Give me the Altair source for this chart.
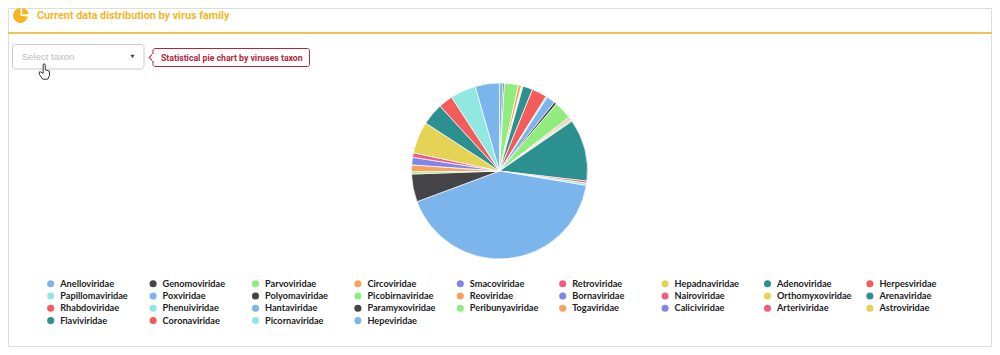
import altair as alt
import pandas as pd

families = ["Anelloviridae","Genomoviridae","Parvoviridae","Circoviridae","Smacoviridae","Retroviridae","Hepadnaviridae","Adenoviridae","Herpesviridae",
"Papillomaviridae","Poxviridae","Polyomaviridae","Picobirnaviridae","Reoviridae","Bornaviridae","Nairoviridae","Orthomyxoviridae","Arenaviridae",
"Rhabdoviridae","Phenuiviridae","Hantaviridae","Paramyxoviridae","Peribunyaviridae","Togaviridae","Caliciviridae","Arteriviridae","Astroviridae",
"Flaviviridae","Coronaviridae","Picornaviridae","Hepeviridae"]
shares = [2.2,1.0,9.3,2.0,0.3,0.3,0.4,6.5,10.0,1.0,5.6,1.7,12.0,0.9,0.8,0.5,1.0,41.1,1.4,1.5,150.1,18.4,1.5,4.5,5.0,3.0,21.0,14.5,9.5,17.0,16.0]
palette = ["#7cb5ec","#434348","#90ed7d","#f7a35c","#8085e9","#f15c80","#e4d354","#2b908f","#f45b5b","#91e8e1"]
colors = [palette[i % 10] for i in range(len(families))]

title_text = "Current data distribution by virus family"
select_text = "Select taxon"
tip_text = "Statistical pie chart by viruses taxon"

YEL = "#f3b61f"
RED = "#b3263a"
one = pd.DataFrame({"a": [0]})
W, H = 984, 339

df = pd.DataFrame({"name": families, "v": shares, "idx": range(len(families))})
df["col"] = df.idx % 9
df["row"] = df.idx // 9

def box(x, x2, y, y2, **kw):
    return alt.Chart(one).mark_rect(**kw).encode(x=alt.value(x), x2=alt.value(x2), y=alt.value(y), y2=alt.value(y2))

def line(x, x2, y, color, w):
    return alt.Chart(one).mark_rule(color=color, strokeWidth=w).encode(x=alt.value(x), x2=alt.value(x2), y=alt.value(y))

def label(text, x, y, **kw):
    return alt.Chart(one).mark_text(align="left", baseline="middle", text=text, **kw).encode(x=alt.value(x), y=alt.value(y))

def slice_(x, y, t0, t1, r):
    return alt.Chart(one).mark_arc(outerRadius=r, fill=YEL).encode(
        x=alt.value(x), y=alt.value(y), theta=alt.value(t0), theta2=alt.value(t1))

frame = box(0.5, 983.5, 0.5, 338.5, fill="#ffffff", stroke="#dddddd", strokeWidth=1)
header = line(0, 984, 25, "#f2c14e", 2)
icon1 = slice_(12.5, 7.5, 1.75, 6.28, 7.5)
icon2 = slice_(14, 6.5, 0.05, 1.55, 6.5)
title = label(title_text, 29, 8, font="Roboto", fontSize=10.8, fontWeight="bold", color=YEL)

dropdown = box(4.5, 136, 36.5, 61, fill="#ffffff", stroke="#c9c9c9", strokeWidth=1, cornerRadius=3)
placeholder = label(select_text, 14, 48.5, font="Liberation Sans", fontSize=9.5, color="#bdbdbd")
caret = alt.Chart(one).mark_point(shape="triangle-down", filled=True, size=18, color="#444444", opacity=1).encode(x=alt.value(124.5), y=alt.value(48.5))

tip_arrow = alt.Chart(one).mark_point(shape="square", angle=45, size=30, fill="#ffffff", stroke=RED, strokeWidth=1, opacity=1).encode(x=alt.value(145), y=alt.value(49.5))
tip_box = box(145, 301.5, 40.5, 58.5, fill="#ffffff", stroke=RED, strokeWidth=1, cornerRadius=2)
tip_cover = alt.Chart(one).mark_rule(color="#ffffff", strokeWidth=2).encode(x=alt.value(145), y=alt.value(46), y2=alt.value(53))
tip = label(tip_text, 153, 49.5, font="Roboto", fontSize=8.7, fontWeight="bold", color=RED)

hand_path = "M-0.15,-0.8 C-0.15,-0.95 0.08,-0.95 0.08,-0.8 L0.08,-0.25 L0.55,-0.1 L0.55,0.4 L0.35,0.8 L-0.2,0.8 L-0.55,0.3 L-0.6,0.02 L-0.45,-0.02 L-0.15,0.15 Z"
hand = alt.Chart(one).mark_point(shape=hand_path, size=324, fill="#ffffff", stroke="#333333", strokeWidth=1, opacity=1).encode(x=alt.value(36.5), y=alt.value(64))

color_scale = alt.Scale(domain=families, range=colors)
pie = alt.Chart(df).mark_arc(outerRadius=88, stroke="#ffffff", strokeWidth=0.7).encode(
    x=alt.value(491.5), y=alt.value(163),
    theta=alt.Theta("v:Q", stack=True, scale=alt.Scale(domain=[0, 360], range=[0, 6.28318])),
    color=alt.Color("name:N", scale=color_scale, legend=None),
    order=alt.Order("idx:Q"),
)

x_pt = alt.X("col:Q", axis=None, scale=alt.Scale(domain=[0, 9], range=[42.7, 964.3]))
y_pt = alt.Y("row:Q", axis=None, scale=alt.Scale(domain=[0, 4], range=[275.7, 324.9]))
dots = alt.Chart(df).mark_circle(size=50, opacity=1).encode(
    x=x_pt, y=y_pt, color=alt.Color("name:N", scale=color_scale, legend=None))
labels = alt.Chart(df).mark_text(align="left", baseline="middle", dx=9.5, font="Lato", fontSize=9.2, fontWeight="bold", color="#222222").encode(
    x=x_pt, y=y_pt, text="name:N")

chart = alt.layer(frame, header, icon1, icon2, title, dropdown, placeholder, caret,
                  tip_arrow, tip_box, tip_cover, tip, hand, pie, dots, labels).resolve_scale(
    x="shared", y="shared", color="shared", theta="independent"
).properties(width=W, height=H, padding=0, background="#ffffff",
             autosize=alt.AutoSizeParams(type="none")).configure_view(stroke=None)

chart.save("out.html", embed_options={"renderer": "svg", "actions": False})
